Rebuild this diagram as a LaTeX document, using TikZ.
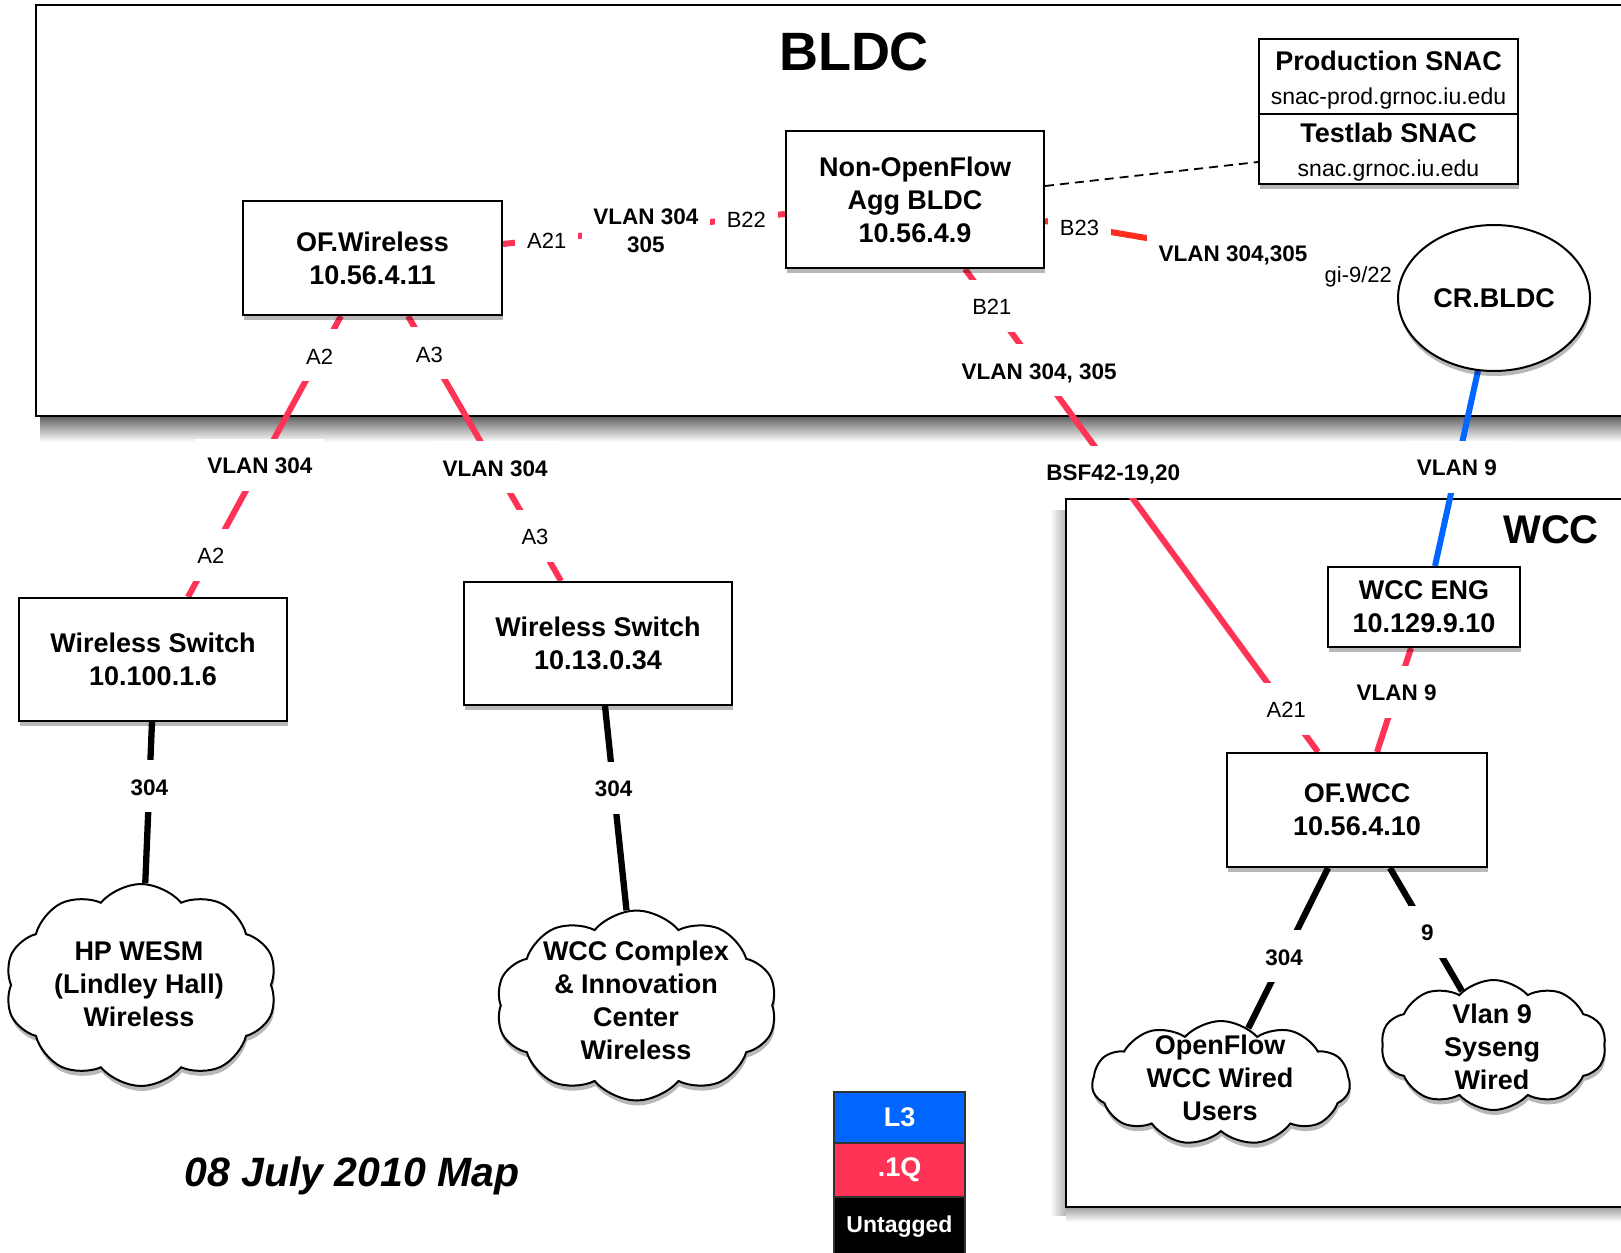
\documentclass[tikz,border=0pt]{standalone}
\usepackage{fontspec}
\setmainfont{Liberation Sans}
\usetikzlibrary{shapes.geometric,shapes.symbols,calc,shadows}
\definecolor{qred}{RGB}{255,51,85}
\definecolor{ored}{RGB}{255,45,30}
\definecolor{lblue}{RGB}{0,102,255}
\newcommand{\fsz}[2]{\fontsize{#1}{#2}\selectfont}
\pgfdeclarelayer{back}
\pgfdeclarelayer{wires}
\pgfsetlayers{back,wires,main}
\begin{document}
\begin{tikzpicture}[x=1pt,y=-1pt,
  shadowed/.style={drop shadow={shadow xshift=1pt,shadow yshift=-5pt,opacity=0.28,fill=black}},
  devbox/.style={shadowed,draw=black,line width=2pt,fill=white,align=center,
     font=\bfseries\fsz{27}{33},inner sep=0pt},
  puff/.style={shadowed,cloud,cloud puffs=10,cloud puff arc=100,draw=black,line width=2pt,fill=white,inner sep=0pt},
  cloudtext/.style={align=center,font=\bfseries\fsz{27}{33},inner sep=0pt},
  port/.style={fill=white,inner xsep=12pt,inner ysep=16pt,font=\fsz{22}{26},text height=19pt,text depth=1pt},
  vlan/.style={port,font=\bfseries\fsz{22.5}{27}},
  vlantwo/.style={fill=white,inner xsep=11pt,inner ysep=6pt,align=center,font=\bfseries\fsz{22.5}{28}},
  dotq/.style={draw=qred,line width=6pt},
  dotqo/.style={draw=ored,line width=6pt},
  lthree/.style={draw=lblue,line width=6pt},
  untag/.style={draw=black,line width=6.3pt},
  legendbox/.style={shadowed,draw=black!80,line width=1.5pt,minimum width=131pt,text=white,font=\bfseries\fsz{27}{32},inner sep=0pt},
]
\useasboundingbox (0,0) rectangle (1621,1252);

% ---------- containers ----------
\begin{pgfonlayer}{back}
  \fill[white] (0,0) rectangle (1621,1252);
  \shade[top color=black!60,bottom color=white] (40,417) rectangle (1660,442);
  \draw[line width=2.5pt] (1660,5) -- (36,5) -- (36,416) -- (1660,416);
  \shade[left color=white,right color=black!30] (1050,510) rectangle (1066,1215);
  \shade[top color=black!35,bottom color=white] (1066,1208) rectangle (1660,1222);
  \draw[line width=2pt] (1660,499) -- (1066,499) -- (1066,1207) -- (1660,1207);
\end{pgfonlayer}

\node[font=\bfseries\fsz{54}{60}] (bldct) at (854,52) {BLDC};
\node[font=\bfseries\fsz{40}{48}] (wcct) at (1551,530) {WCC};

% ---------- devices ----------
\node[devbox,minimum width=259pt,minimum height=75pt] (prod) at (1388.5,76.5)
  {\rule{0pt}{26pt}Production SNAC\\[1pt]{\mdseries\fsz{23}{28}snac-prod.grnoc.iu.edu}};
\node[devbox,minimum width=259pt,minimum height=70pt] (test) at (1388.5,149)
  {\rule{0pt}{26pt}Testlab SNAC\\[1pt]{\mdseries\fsz{23}{28}snac.grnoc.iu.edu}};
\node[devbox,minimum width=258pt,minimum height=137pt] (nof) at (915,199.5)
  {Non-OpenFlow\\Agg BLDC\\10.56.4.9};
\node[devbox,minimum width=259pt,minimum height=114pt] (ofw) at (372.5,258)
  {OF.Wireless\\10.56.4.11};
\node[shadowed,ellipse,draw=black,line width=2pt,fill=white,minimum width=192pt,minimum height=146pt,
  inner sep=0pt,font=\bfseries\fsz{27}{33}] (crb) at (1494,298) {CR.BLDC};
\node[devbox,minimum width=268pt,minimum height=123pt] (ws1) at (153,659.5)
  {Wireless Switch\\10.100.1.6};
\node[devbox,minimum width=268pt,minimum height=123pt] (ws2) at (598,643.5)
  {Wireless Switch\\10.13.0.34};
\node[devbox,minimum width=192pt,minimum height=80pt] (wcceng) at (1424,607)
  {WCC ENG\\10.129.9.10};
\node[devbox,minimum width=260pt,minimum height=114pt] (ofwcc) at (1357,810)
  {OF.WCC\\10.56.4.10};

% clouds
\node[puff,minimum width=272pt,minimum height=202pt] (hp) at (141,985) {};
\node[cloudtext] (hptxt) at (139,984) {HP WESM\\(Lindley Hall)\\Wireless};
\node[puff,minimum width=281pt,minimum height=190pt] (wccc) at (636.5,1005.5) {};
\node[cloudtext] (wccctxt) at (636,1000) {WCC Complex\\\& Innovation\\Center\\Wireless};
\node[puff,cloud puffs=11,cloud puff arc=95,minimum width=258pt,minimum height=124pt] (ofc) at (1221,1083) {};
\node[cloudtext] (ofctxt) at (1220,1078) {OpenFlow\\WCC Wired\\Users};
\node[puff,cloud puffs=10,cloud puff arc=95,minimum width=225pt,minimum height=130pt] (v9) at (1493.5,1045) {};
\node[cloudtext] (v9txt) at (1492,1047) {Vlan 9\\Syseng\\Wired};

% ---------- connectors ----------
\begin{pgfonlayer}{wires}
  \draw[dotq] ($(ofw.east)+(0,-14)$) -- ($(nof.west)+(0,14.5)$)
    node[port,pos=0.155] (pa21) {A21}
    node[vlantwo,pos=0.507,yshift=-2pt] (va) {VLAN 304\\305}
    node[port,pos=0.863] (pb22) {B22};
  \draw[dotqo] ($(nof.east)+(0,21.5)$) -- ($(crb.west)+(0,-18)$)
    node[port,pos=0.098] (pb23) {B23}
    node[vlan,pos=0.534] (vb) {VLAN 304,305}
    node[port,pos=0.89] (pgi) {gi-9/22};
  \draw[dotq] ($(nof.south)+(50,0)$) -- ($(ofwcc.north)+(-39,0)$)
    node[port,pos=0.076] (pb21) {B21}
    node[vlan,pos=0.21] (vc) {VLAN 304, 305}
    node[vlan,pos=0.42] (bsf) {BSF42-19,20}
    node[port,pos=0.91] (pa21w) {A21};
  \draw[dotq] ($(ofw.south)+(-31.5,0)$) -- ($(ws1.north)+(35,0)$)
    node[port,pos=0.14] (pa2) {A2}
    node[vlan,pos=0.53] (vd) {VLAN 304}
    node[port,pos=0.85] (pa2b) {A2};
  \draw[dotq] ($(ofw.south)+(35.5,0)$) -- ($(ws2.north)+(-37,0)$)
    node[port,pos=0.14] (pa3) {A3}
    node[vlan,pos=0.57] (ve) {VLAN 304}
    node[port,pos=0.83] (pa3b) {A3};
  \draw[untag] ($(ws1.south)+(-1,0)$) -- (hp)
    node[vlan,pos=0.40] (vf) {304};
  \draw[untag] ($(ws2.south)+(7,0)$) -- (wccc)
    node[vlan,pos=0.40] (vg) {304};
  \draw[lthree] (crb) -- ($(wcceng.north)+(11,0)$)
    node[vlan,pos=0.49] (vh) {VLAN 9};
  \draw[dotq] ($(wcceng.south)+(-13,0)$) -- ($(ofwcc.north)+(20,0)$)
    node[vlan,pos=0.42] (vi) {VLAN 9};
  \draw[untag] ($(ofwcc.south)+(-29,0)$) -- (ofc)
    node[vlan,pos=0.55] (vj) {304};
  \draw[untag] ($(ofwcc.south)+(33,0)$) -- (v9)
    node[vlan,pos=0.52] (vk) {9};
  \draw[line width=1.8pt,dash pattern=on 9pt off 6pt] ($(nof.east)+(0,-13.5)$) -- ($(test.west)+(0,13)$);
\end{pgfonlayer}

% ---------- legend ----------
\node[legendbox,fill=lblue,minimum height=51pt] (lgl3) at (899.5,1117.5) {L3};
\node[legendbox,fill=qred,minimum height=54pt] (lgq) at (899.5,1170) {.1Q};
\node[legendbox,fill=black,minimum height=60pt,font=\bfseries\fsz{23}{28}] (lgu) at (899.5,1227) {Untagged};

\node[font=\bfseries\itshape\fsz{41}{48}] (date) at (352,1176) {08 July 2010 Map};
\end{tikzpicture}
\end{document}
